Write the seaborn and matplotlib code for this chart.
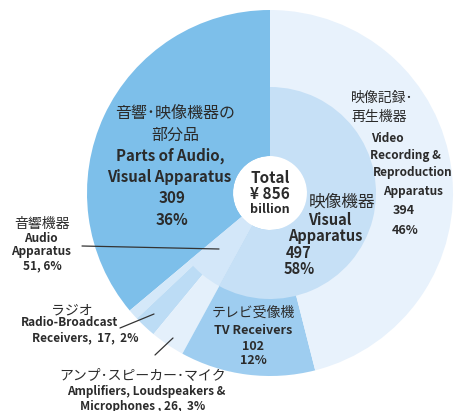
import matplotlib
matplotlib.use("Agg")
import matplotlib.pyplot as plt
import seaborn as sns

sns.set_style("white")
plt.rcParams['font.family'] = ['Noto Sans CJK JP', 'DejaVu Sans']

# ---------------------------
# données (milliards de yens)
inner_labels = ["Parts", "Audio", "Visual"]
inner_values = [309, 51, 497]
outer_labels = ["Parts", "Other audio", "Radio", "Amplifiers", "TV", "Video recording"]
outer_values = [309, 8, 17, 26, 102, 394]

inner_colors = ["#7dbfea", "#d3e7f9", "#c6e0f6"]
outer_colors = ["#7dbfea", "#d4e8f9", "#bcdcf5", "#e4f0fb", "#9ecdf0", "#e8f2fc"]

W, H = 455, 411
cx, cy = 270, H - 193
R_out, R_in, R_hole = 183, 106, 37

fig = plt.figure(figsize=(W / 100, H / 100), dpi=100)
ax = fig.add_axes([0, 0, 1, 1])
ax.set_xlim(0, W)
ax.set_ylim(0, H)
ax.set_aspect("equal")
ax.axis("off")

# anneau extérieur (jusqu'au trou central), puis anneau intérieur par-dessus
ax.pie(outer_values, colors=outer_colors, startangle=90, counterclock=True,
       radius=R_out, center=(cx, cy),
       wedgeprops=dict(width=R_out - R_hole, linewidth=0))
ax.pie(inner_values, colors=inner_colors, startangle=90, counterclock=True,
       radius=R_in, center=(cx, cy),
       wedgeprops=dict(width=R_in - R_hole, linewidth=0))
ax.set_xlim(0, W)
ax.set_ylim(0, H)

TXT = "#2b2b2b"


def t(x, y, s, size=9, bold=False, ha="center"):
    ax.text(x, H - y, s, ha=ha, va="center", fontsize=size, color=TXT,
            fontweight="bold" if bold else "normal")


# Parts
t(175, 113, "音響･映像機器の", 11.5)
t(175, 135, "部分品", 11.5)
t(170, 156, "Parts of Audio,", 10.8, True)
t(169, 177, "Visual Apparatus", 10.8, True)
t(172, 198, "309", 11, True)
t(172, 220, "36%", 11, True)

# Total
t(270, 178, "Total", 11, True)
t(270, 194, "¥ 856", 11, True)
t(270, 210, "billion", 9, True)

# Visual
t(342, 202, "映像機器", 12)
t(330, 220, "Visual", 10.5, True)
t(325, 236, "Apparatus", 10.5, True)
t(299, 253, "497", 10.5, True)
t(299, 269, "58%", 10.5, True)

# Video recording
t(351, 98, "映像記録･", 10, ha="left")
t(351, 117, "再生機器", 10, ha="left")
t(387, 138, "Video", 8.5, True)
t(405, 156, "Recording &", 8.5, True)
t(413, 173, "Reproduction", 8.5, True)
t(413, 192, "Apparatus", 8.5, True)
t(404, 211, "394", 9, True)
t(405, 230, "46%", 9, True)

# TV
t(253, 313, "テレビ受像機", 10)
t(253, 330, "TV Receivers", 9, True)
t(253, 346, "102", 9, True)
t(253, 361, "12%", 9, True)

# Audio
t(42, 224, "音響機器", 10)
t(41, 238, "Audio", 8.5, True)
t(41, 252, "Apparatus", 8.5, True)
t(42, 266, "51, 6%", 8.5, True)
ax.plot([82, 219], [H - 246, H - 249], color="#333333", lw=0.9)

# Radio
t(72, 310, "ラジオ", 10)
t(70, 323, "Radio-Broadcast", 8.5, True)
t(85, 338, "Receivers,  17,  2%", 8.5, True)
ax.plot([120, 154], [H - 328, H - 314], color="#333333", lw=0.9)

# Amplifiers
ax.plot([155, 173], [H - 355, H - 338], color="#333333", lw=0.9)
t(143, 375, "アンプ･スピーカー･マイク", 10)
t(146, 391, "Amplifiers, Loudspeakers &", 8.5, True)
t(143, 406, "Microphones , 26,  3%", 8.5, True)

fig.savefig("out.png", dpi=100)
